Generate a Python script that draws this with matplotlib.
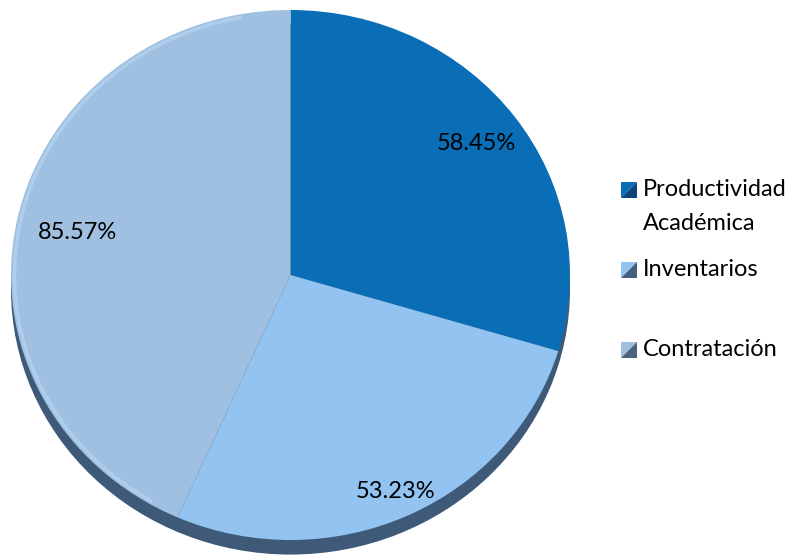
import matplotlib.pyplot as plt
import numpy as np
from matplotlib.patches import Ellipse, Polygon, Arc

# datos del gráfico
categorias = ['Productividad\nAcadémica', 'Inventarios', 'Contratación']
valores = [58.45, 53.23, 85.57]
etiquetas = ['58.45%', '53.23%', '85.57%']
colores = ['#0A6EB7', '#93C3F0', '#9FC0E1']
colores_sombra = ['#0C4378', '#415F7F', '#4A627C']
dist_etiqueta = [0.83, 0.90, 0.78]

plt.rcParams['font.family'] = ['Lato', 'DejaVu Sans']

W, H = 795, 558
fig = plt.figure(figsize=(W / 100, H / 100), dpi=100)

# eje ajustado al tamaño de la torta (en pixeles)
x0, x1, y0, y1 = 11, 570, 10, 540
ax = fig.add_axes([x0 / W, 1 - y1 / H, (x1 - x0) / W, (y1 - y0) / H])

# sombra / grosor 3D
sombra = Ellipse((0, -0.055), 2.0, 2.0, facecolor='#3E5A78', edgecolor='none', zorder=0, clip_on=False)
ax.add_patch(sombra)

wedges, _ = ax.pie(valores, colors=colores, startangle=90, counterclock=False,
                   radius=1, wedgeprops=dict(linewidth=0, zorder=1), frame=True)
ax.set_xlim(-1, 1)
ax.set_ylim(-1, 1)
ax.set_aspect('auto')
ax.axis('off')

# brillo suave del borde
ax.add_patch(Arc((0, 0), 1.975, 1.975, theta1=100, theta2=240, color='#C4E0FA', lw=2.5, zorder=2, alpha=0.45))

for w, txt, d in zip(wedges, etiquetas, dist_etiqueta):
    ang = np.deg2rad((w.theta1 + w.theta2) / 2)
    ax.text(d * np.cos(ang), d * np.sin(ang), txt, ha='center', va='center',
            fontsize=17, color='black', zorder=3)

# leyenda manual
ley = fig.add_axes([0, 0, 1, 1])
ley.set_xlim(0, W)
ley.set_ylim(H, 0)
ley.axis('off')
filas_y = [190, 270, 350]
for cat, c1, c2, yy in zip(categorias, colores, colores_sombra, filas_y):
    s = 16
    xa, ya = 621, yy - 8
    ley.add_patch(Polygon([(xa, ya), (xa + s, ya), (xa, ya + s)], closed=True, facecolor=c1, edgecolor='none'))
    ley.add_patch(Polygon([(xa + s, ya), (xa + s, ya + s), (xa, ya + s)], closed=True, facecolor=c2, edgecolor='none'))
    ley.text(643, yy - 11, cat, ha='left', va='top', fontsize=17, color='black', linespacing=1.78)

fig.savefig('out.png', dpi=100)
